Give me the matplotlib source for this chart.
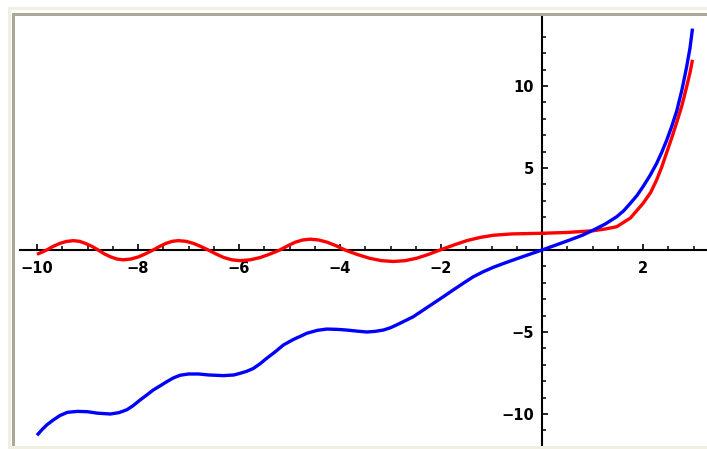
import matplotlib
matplotlib.use("Agg")
import matplotlib.pyplot as plt
from matplotlib.patches import Rectangle
import numpy as np

red_x = [-10.0, -9.9, -9.81, -9.68, -9.55, -9.42, -9.28, -9.16, -9.04, -8.91, -8.79,
         -8.67, -8.54, -8.42, -8.29, -8.14, -7.99, -7.85, -7.70, -7.57, -7.45, -7.32,
         -7.2, -7.05, -6.9, -6.76, -6.61, -6.45, -6.3, -6.14, -5.98, -5.78, -5.58,
         -5.39, -5.19, -5.04, -4.89, -4.74, -4.59, -4.42, -4.25, -4.07, -3.9, -3.66,
         -3.42, -3.18, -2.94, -2.71, -2.48, -2.25, -2.02, -1.75, -1.49, -1.22, -0.96,
         -0.6, -0.3, 0.0, 0.5, 1.0, 1.25, 1.48, 1.75, 2.0, 2.15, 2.27, 2.37, 2.47,
         2.57, 2.67, 2.77, 2.86, 2.93, 2.98]
red_y = [-0.26, -0.13, 0.0, 0.22, 0.40, 0.52, 0.57, 0.53, 0.40, 0.22, 0.0,
         -0.23, -0.42, -0.55, -0.60, -0.55, -0.42, -0.23, 0.0, 0.22, 0.40, 0.53,
         0.57, 0.53, 0.40, 0.22, 0.0, -0.25, -0.46, -0.60, -0.65, -0.60, -0.46,
         -0.25, 0.0, 0.25, 0.47, 0.61, 0.66, 0.61, 0.47, 0.25, 0.0, -0.27,
         -0.50, -0.65, -0.70, -0.65, -0.50, -0.27, 0.0, 0.30, 0.57, 0.77, 0.90,
         0.98, 1.0, 1.02, 1.07, 1.17, 1.28, 1.42, 1.95, 2.84, 3.5, 4.27, 5.05, 5.95,
         6.85, 7.8, 8.8, 9.9, 10.8, 11.6]

blue_x = [-10.0, -9.9, -9.8, -9.68, -9.55, -9.4, -9.2, -9.0, -8.8, -8.55, -8.38,
          -8.22, -8.1, -7.96, -7.83, -7.70, -7.56, -7.43, -7.3, -7.17, -7.0, -6.8,
          -6.6, -6.31, -6.1, -5.98, -5.85, -5.72, -5.58, -5.45, -5.28, -5.12, -4.92,
          -4.79, -4.66, -4.45, -4.26, -4.05, -3.87, -3.65, -3.47, -3.3, -3.14, -3.0,
          -2.88, -2.72, -2.55, -2.35, -2.15, -1.95, -1.76, -1.56, -1.36, -1.16,
          -0.96, -0.77, -0.57, -0.3, 0.0, 0.3, 0.55, 0.8, 1.02, 1.25, 1.48, 1.62,
          1.75, 1.88, 2.0, 2.14, 2.27, 2.37, 2.47, 2.57, 2.67, 2.77, 2.86, 2.93, 2.98]
blue_y = [-11.3, -10.95, -10.65, -10.37, -10.1, -9.9, -9.84, -9.86, -9.95, -10.0, -9.92,
          -9.74, -9.5, -9.15, -8.85, -8.54, -8.28, -8.03, -7.8, -7.64, -7.56, -7.56,
          -7.62, -7.66, -7.62, -7.52, -7.4, -7.23, -6.93, -6.6, -6.2, -5.79, -5.45,
          -5.27, -5.08, -4.9, -4.82, -4.84, -4.88, -4.95, -5.0, -4.96, -4.88, -4.74,
          -4.57, -4.33, -4.07, -3.66, -3.25, -2.84, -2.44, -2.03, -1.63, -1.32,
          -1.05, -0.83, -0.61, -0.32, 0.0, 0.33, 0.61, 0.9, 1.22, 1.58, 2.03, 2.4,
          2.85, 3.32, 3.86, 4.55, 5.28, 5.95, 6.7, 7.55, 8.5, 9.75, 11.1, 12.3, 13.5]

x_major = [-10, -8, -6, -4, -2, 2]
x_labels = ["\u221210", "\u22128", "\u22126", "\u22124", "\u22122", "2"]
y_major = [-10, -5, 5, 10]
y_labels = ["\u221210", "\u22125", "5", "10"]

W, H = 707, 449
fig = plt.figure(figsize=(W / 100, H / 100), dpi=100)
fig.patch.set_facecolor("white")

def px_rect(x0, y0, x1, y1, color):
    fig.patches.append(Rectangle((x0 / W, 1 - y1 / H), (x1 - x0) / W, (y1 - y0) / H,
                                 transform=fig.transFigure, facecolor=color,
                                 edgecolor="none", zorder=0))

beige = "#F1EFE2"
gray = "#ACA899"
px_rect(8, 7, 11, 449, beige)
px_rect(8, 7, W, 10, beige)
px_rect(8, 446, W, 449, beige)
px_rect(12, 13, 15, 446, gray)
px_rect(12, 13, W, 16, gray)

ax = fig.add_axes([0, 0, 1, 1])
ax.set_facecolor("none")
x0px, sx = 542.0, 50.5
y0px, sy = 250.0, 16.4
ax.set_xlim(-x0px / sx, (W - x0px) / sx)
ax.set_ylim(-(H - y0px) / sy, y0px / sy)

ax.plot(red_x, red_y, color="#FF0000", lw=2.4, solid_capstyle="butt", zorder=3)
ax.plot(blue_x, blue_y, color="#0000FF", lw=2.4, solid_capstyle="butt", zorder=4)

for s in ["top", "right"]:
    ax.spines[s].set_visible(False)
ax.spines["left"].set_position(("data", 0))
ax.spines["bottom"].set_position(("data", 0))
ax.spines["bottom"].set_bounds((20 - x0px) / sx, (W - x0px) / sx)
ax.spines["left"].set_bounds(-(445 - y0px) / sy, (y0px - 17) / sy)
for s in ["left", "bottom"]:
    ax.spines[s].set_linewidth(1.5)
    ax.spines[s].set_color("black")

ax.set_xticks(x_major)
ax.set_xticklabels(x_labels)
ax.set_xticks([v for v in np.arange(-10, 3.01, 0.5) if v not in x_major and v != 0], minor=True)
ax.set_yticks(y_major)
ax.set_yticklabels(y_labels)
ax.set_yticks([v for v in range(-11, 14) if v not in y_major and v != 0], minor=True)

ax.tick_params(axis="both", which="major", direction="in", length=4, width=1.2,
               color="black", labelsize=10.5)
ax.tick_params(axis="both", which="minor", direction="in", length=3, width=1.1,
               color="black")
ax.tick_params(axis="x", which="major", pad=8)
ax.tick_params(axis="y", which="major", pad=6)
for lab in ax.get_xticklabels() + ax.get_yticklabels():
    lab.set_fontweight("bold")
    lab.set_family("DejaVu Sans")

fig.savefig("out.png", dpi=100)
